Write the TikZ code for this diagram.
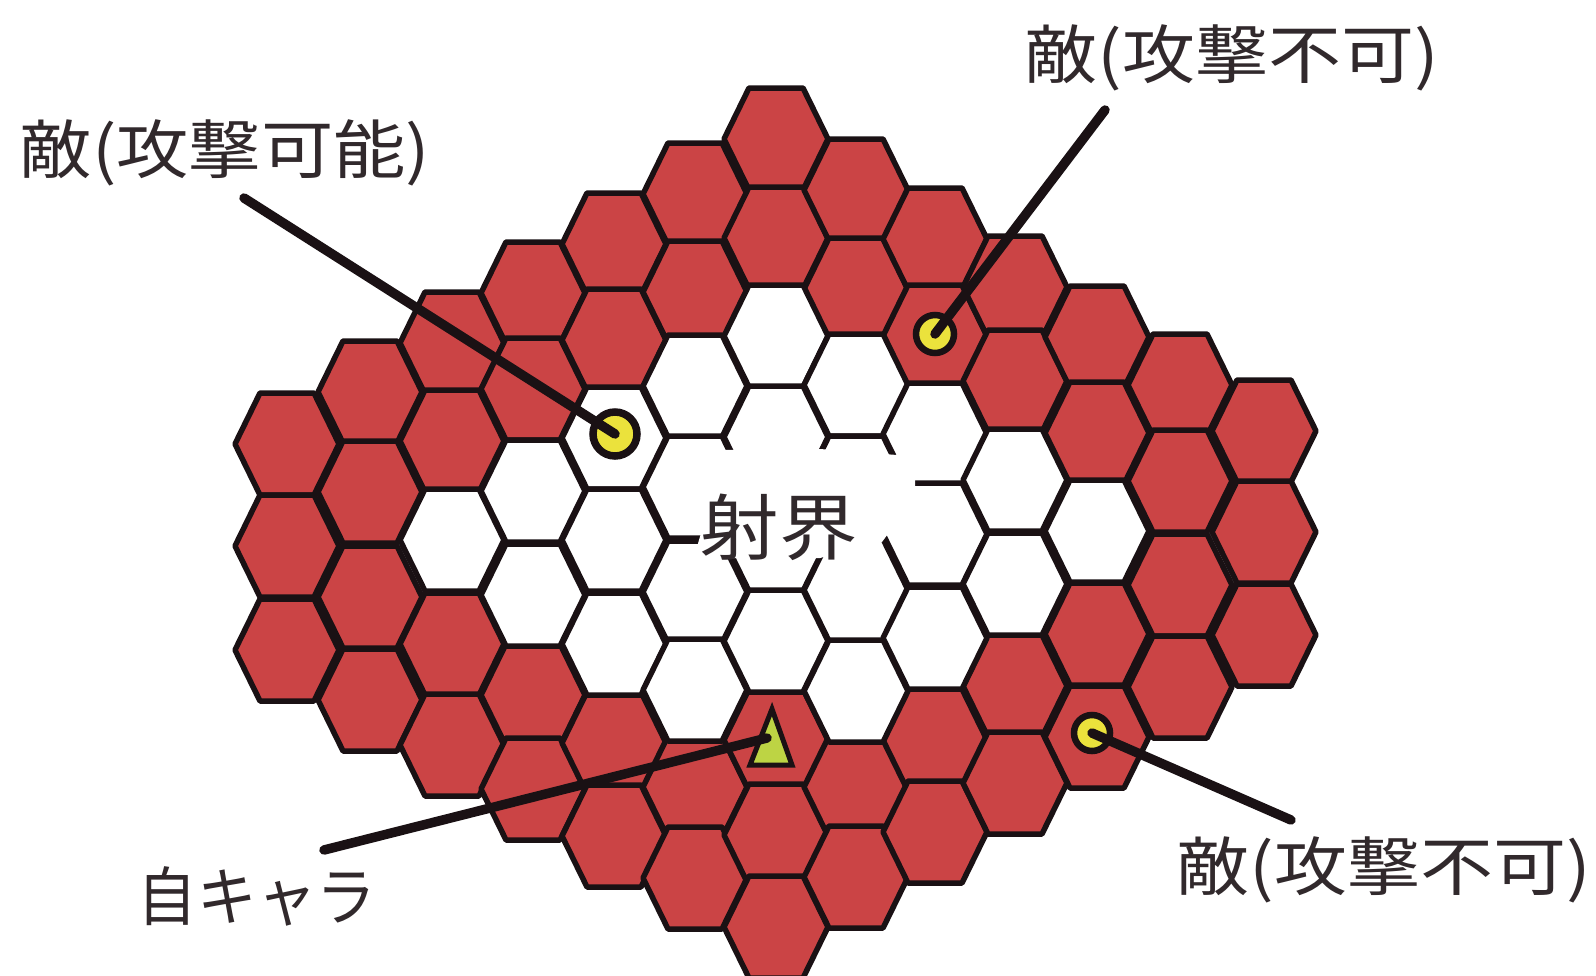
\documentclass[tikz,border=0pt]{standalone}
\usepackage{fontspec}
\setmainfont{Noto Sans CJK JP}
\definecolor{hexred}{HTML}{CB4445}
\definecolor{ink}{HTML}{1A1114}
\definecolor{enemyyellow}{HTML}{EBE23C}
\definecolor{playergreen}{HTML}{BDD444}
\tikzset{
  x=1pt,y=-1pt,
  cellred/.style={fill=hexred,draw=ink,line width=5.5pt,line join=round},
  cellwhite/.style={fill=white,draw=ink,line width=5.5pt,line join=round},
  lbl/.style={inner sep=0pt,text=ink!90,font=\fontsize{64}{70}\selectfont},
  enemy/.style={circle,draw=ink,line width=6.5pt,fill=enemyyellow,minimum size=38pt,inner sep=0pt},
  leader/.style={draw=ink,line width=9.5pt,line cap=round},
}
\newcommand{\hexcell}[3]{%
  \path[#3] (#1-52,#2) -- (#1-27,#2-51) -- (#1+27,#2-51) -- (#1+52,#2)
    -- (#1+27,#2+51) -- (#1-27,#2+51) -- cycle;}
\begin{document}
\begin{tikzpicture}
\useasboundingbox (0,0) rectangle (1596,975);
\fill[white] (0,0) rectangle (1596,975);
% red cells
\foreach \cx/\cy in {287/444,287/546,287/650,370/392,370/492,370/597,370/700,
  452/343,452/441,452/644,452/745,533/293,533/389,533/695,533/789,
  614/244,614/340,614/743,614/836,695/194,695/292,695/787,695/878,
  776/139,776/238,776/740,776/835,776/927,856/190,856/289,856/787,856/877,
  935/239,935/336,935/740,935/832,1015/287,1015/381,1015/686,1015/783,
  1097/337,1097/433,1097/634,1097/737,1180/385,1180/481,1180/585,1180/687,
  1264/431,1264/532,1264/635}
  {\hexcell{\cx}{\cy}{cellred}}
% white cells
\foreach \cx/\cy in {452/540,533/491,533/595,614/438,614/540,614/644,
  695/386,695/487,695/592,695/690,776/336,776/437,776/540,776/641,
  856/385,856/487,856/590,856/691,935/434,935/534,935/638,1015/480,1015/584,1097/531}
  {\hexcell{\cx}{\cy}{cellwhite}}
% erased middle of the range area
\fill[white] (725,450) -- (820,449) -- (897,455) -- (915,470) -- (915,497)
  -- (882,542) -- (820,558) -- (730,558) -- (697,547) -- cycle;
% labels
\node[lbl] (can)  at (225,153) {\scalebox{1.13}[1]{敵(攻撃可能)}};
\node[lbl] (no1)  at (1232,58) {\scalebox{1.14}[1]{敵(攻撃不可)}};
\node[lbl] (no2)  at (1384,870) {\scalebox{1.14}[1]{敵(攻撃不可)}};
\node[lbl] (self) at (257,896) {\scalebox{0.93}[1]{自キャラ}};
\node[lbl,font=\fontsize{72}{76}\selectfont] (range) at (779,527) {\scalebox{1.09}[1]{射界}};
% markers
\node[enemy,minimum size=44pt,line width=7.5pt] (e1) at (615,434) {};
\node[enemy] (e2) at (935,334) {};
\node[enemy,minimum size=36pt] (e3) at (1092,733) {};
\coordinate (p) at (767,738);
\draw[draw=ink,line width=5pt,line join=miter,fill=playergreen] (772,709) -- (750,765) -- (792,765) -- cycle;
% connectors
\coordinate (s1) at (244,198);
\coordinate (s2) at (1105,110);
\coordinate (s3) at (1291,820);
\coordinate (s4) at (324,850);
\draw[leader] (s1) -- (e1.center);
\draw[leader] (s2) -- (e2.center);
\draw[leader] (s3) -- (e3.center);
\draw[leader] (s4) -- (p);
\end{tikzpicture}
\end{document}
